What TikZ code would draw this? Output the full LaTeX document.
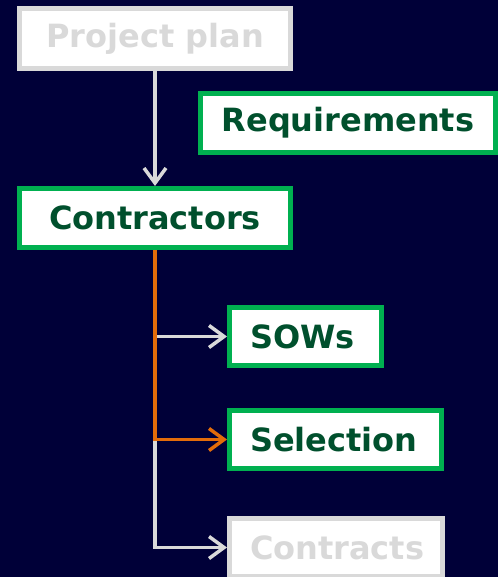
\documentclass[tikz,border=0pt]{standalone}
\usepackage{fontspec}
\setmainfont{DejaVu Sans}
\usetikzlibrary{arrows.meta}
\definecolor{navy}{RGB}{0,0,56}
\definecolor{boxgreen}{RGB}{0,176,80}
\definecolor{textgreen}{RGB}{0,80,45}
\definecolor{lightgray}{RGB}{217,217,217}
\definecolor{flow}{RGB}{227,108,10}
\tikzset{
  box/.style={draw=boxgreen, line width=5pt, fill=white, text=textgreen,
    font=\fontsize{32}{38}\selectfont\bfseries, inner sep=0pt,
    minimum height=59pt},
  faded/.style={draw=lightgray, text=lightgray},
  leftbox/.style={box, inner xsep=20.5pt, align=left},
  link/.style={draw=lightgray, line width=3.5pt,
    -{Straight Barb[length=15pt, width=22pt, line width=3.5pt]}},
  active/.style={link, draw=flow}
}
\begin{document}
\begin{tikzpicture}[x=1pt, y=-1pt]
  \fill[navy] (0,0) rectangle (498,577);
  \useasboundingbox (0,0) rectangle (498,577);

  \node[box, faded, minimum width=271pt, minimum height=60pt] (plan) at (155,38.5) {Project plan};
  \node[box, minimum width=295pt] (req) at (348,123) {Requirements};
  \node[box, minimum width=271pt] (contr) at (155,218) {Contractors};
  \node[leftbox, text width=111pt, minimum height=58pt] (sow) at (305.5,336.5) {SOWs};
  \node[leftbox, text width=171pt, minimum height=58pt] (sel) at (335.5,439.5) {Selection};
  \node[leftbox, faded, text width=172pt, minimum height=58pt] (cts) at (336,547.5) {Contracts};

  \draw[link] (plan) -- (contr);
  \draw[link] (contr.south) |- (cts.west);
  \draw[link] (contr.south) |- (sow.west);
  \draw[active] (contr.south) |- (sel.west);
\end{tikzpicture}
\end{document}
